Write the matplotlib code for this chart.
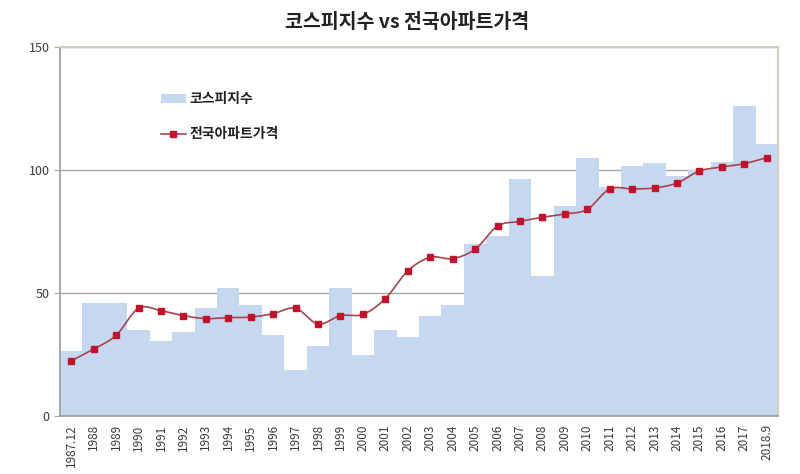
import numpy as np
import matplotlib
matplotlib.use("Agg")
import matplotlib.pyplot as plt
from matplotlib.lines import Line2D
from matplotlib.patches import Patch

plt.rcParams['font.family'] = ['Noto Sans CJK KR', 'DejaVu Sans']

labels = ['1987.12'] + [str(y) for y in range(1988, 2018)] + ['2018.9']
kospi = [26.5, 46, 46, 35, 30.5, 34, 44, 52, 45, 33, 18.5, 28.5, 52, 25, 35, 32,
         40.7, 45, 70, 73, 96.5, 57, 85.5, 105, 93, 101.6, 102.7, 97.7, 100, 103.4, 126, 110.4]
apt = [22.4, 27.2, 32.8, 43.8, 42.8, 40.8, 39.6, 40, 40.2, 41.6, 43.8, 37.4, 40.8, 41.3, 47.7, 59,
       64.5, 64, 67.8, 77.2, 79.1, 80.8, 82.1, 84, 92.3, 92.3, 92.7, 94.7, 99.6, 101.2, 102.6, 105]

bar_color = '#C6D8EF'
line_color = '#A8434E'
marker_color = '#C0132C'
grid_color = '#A6A6A6'

def catmull_rom(x, y, n=20):
    x = np.asarray(x, float); y = np.asarray(y, float)
    px = np.concatenate([[2*x[0]-x[1]], x, [2*x[-1]-x[-2]]])
    py = np.concatenate([[2*y[0]-y[1]], y, [2*y[-1]-y[-2]]])
    xs, ys = [], []
    t = np.linspace(0, 1, n, endpoint=False)
    for i in range(1, len(px)-2):
        for arr, out in ((px, xs), (py, ys)):
            p0, p1, p2, p3 = arr[i-1], arr[i], arr[i+1], arr[i+2]
            out.extend(0.5*((2*p1) + (-p0+p2)*t + (2*p0-5*p1+4*p2-p3)*t**2 + (-p0+3*p1-3*p2+p3)*t**3))
    xs.append(x[-1]); ys.append(y[-1])
    return np.array(xs), np.array(ys)

fig = plt.figure(figsize=(8, 4.74), dpi=100)
ax = fig.add_axes([60/800, 1-416/474, 718/800, (416-47)/474])

x = np.arange(len(labels))
ax.set_axisbelow(True)
ax.yaxis.grid(True, color=grid_color, linewidth=1.0)
ax.bar(x, kospi, width=1.0, color=bar_color, edgecolor='none', zorder=2)
sx, sy = catmull_rom(x, apt)
ax.plot(sx, sy, color=line_color, linewidth=1.2, zorder=3)
ax.plot(x, apt, linestyle='none', marker='s', markersize=4, color=marker_color, zorder=4)

ax.set_xlim(-0.5, len(labels)-0.5)
ax.set_ylim(0, 150)
ax.set_yticks([0, 50, 100, 150])
ax.set_xticks(x)
ax.set_xticklabels(labels, rotation=90, fontsize=8.5, color='#3A3A3A')
ax.tick_params(axis='y', labelsize=9, colors='#3A3A3A', length=4, color=grid_color)
ax.tick_params(axis='x', length=0, pad=6)
for s in ['left', 'bottom']:
    ax.spines[s].set_color('#9A9A9A')
    ax.spines[s].set_linewidth(1.2)
for s in ['top', 'right']:
    ax.spines[s].set_color('#CFCFC0')
    ax.spines[s].set_linewidth(1.5)

fig.text(407/800, 1-23/474, '코스피지수 vs 전국아파트가격', ha='center', va='center',
         fontsize=14, fontweight='bold', color='#222222')

handles = [Patch(facecolor=bar_color, edgecolor='none'),
           Line2D([0], [0], color=line_color, linewidth=1.2, marker='s', markersize=4,
                  markerfacecolor=marker_color, markeredgecolor=marker_color)]
leg = ax.legend(handles, ['코스피지수', '전국아파트가격'], loc='upper left',
                bbox_to_anchor=(88/718, 1-33/369), frameon=False, fontsize=10,
                handlelength=1.8, handleheight=0.6, labelspacing=1.5, handletextpad=0.3)
for t in leg.get_texts():
    t.set_fontweight('bold')
    t.set_color('#222222')

fig.savefig('out.png', dpi=100)
